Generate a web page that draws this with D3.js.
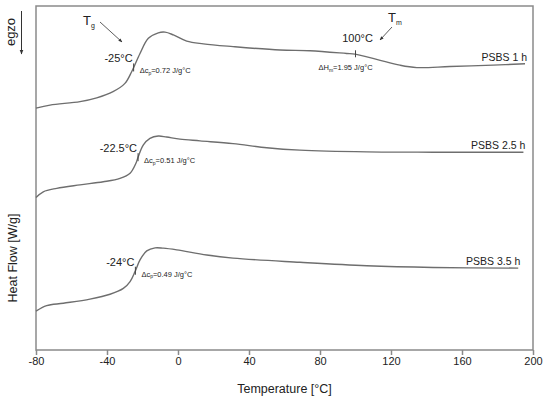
<!DOCTYPE html>
<html>
<head>
<meta charset="utf-8">
<script src="https://cdn.jsdelivr.net/npm/d3@7"></script>
<style>
  html, body { margin: 0; padding: 0; background: #fff; }
  svg { display: block; font-family: "Liberation Sans", Arial, sans-serif; }
</style>
</head>
<body>
<svg id="chart" width="550" height="404"></svg>
<script>
// temperatures [°C] and heat flow (arbitrary, stacked)
const temps1 = [-80, -72.1, -55.2, -45.8, -36.6, -29.9, -26.1, -21.4, -16.7, -11.1, -7.3, -2.6, 4.9, 14.3, 31, 57.5, 74.4, 95, 99.7, 111.9, 125, 134.5, 153.2, 177.5, 195.5]
const flow1 = [70.3, 71.2, 72.2, 73.3, 75.1, 77.5, 80.9, 86.2, 90.6, 92.2, 92.4, 91.6, 89.8, 89.0, 88.2, 87.2, 87.0, 86.2, 86.0, 84.5, 82.8, 82.1, 82.4, 82.8, 83.2]
const temps2 = [-80, -75.9, -68.3, -55.2, -42.1, -32.7, -27.0, -23.7, -22.4, -19.5, -15.8, -11.1, -6.4, 1.1, 12.4, 31, 50, 68.7, 106.3, 143.7, 194.6]
const flow2 = [44.3, 46.0, 47.0, 48.0, 48.9, 49.9, 51.4, 54.3, 56.2, 59.6, 61.5, 62.2, 61.9, 61.3, 60.8, 60.0, 58.8, 58.1, 57.6, 57.5, 57.5]
const temps3 = [-80, -74, -64.6, -49.6, -38.3, -30.8, -27.0, -24.2, -21.4, -17.6, -12.9, -8.3, -0.7, 16.2, 31, 68.7, 106.3, 143.7, 191.7]
const flow3 = [11.3, 12.9, 13.6, 14.8, 16.2, 17.9, 19.9, 22.8, 26.2, 28.8, 29.7, 29.6, 29.1, 27.6, 26.7, 25.5, 24.5, 24.0, 23.8]

const sampleNames = ["PSBS 1 h", "PSBS 2.5 h", "PSBS 3.5 h"]
const tgValues = [-25, -22.5, -24]
const dcpValues = [0.72, 0.51, 0.49]
const tmValue = 100
const dhmValue = 1.95
const xTicks = [-80, -40, 0, 40, 80, 120, 160, 200]

const series = [
  { name: sampleNames[0], t: temps1, v: flow1 },
  { name: sampleNames[1], t: temps2, v: flow2 },
  { name: sampleNames[2], t: temps3, v: flow3 },
]

const svg = d3.select("#chart")
const margin = { top: 6, right: 17, bottom: 54, left: 36 }
const width = 550, height = 404
const x = d3.scaleLinear().domain([-80, 200]).range([margin.left, width - margin.right])
const y = d3.scaleLinear().domain([0, 100]).range([height - margin.bottom, margin.top])

const frameColor = "#8a8a8a"
const lineColor = "#6e6e6e"
const textColor = "#222"

const defs = svg.append("defs")
defs.append("marker")
  .attr("id", "arrow")
  .attr("viewBox", "0 0 10 10")
  .attr("refX", 9).attr("refY", 5)
  .attr("markerWidth", 5).attr("markerHeight", 5)
  .attr("orient", "auto")
  .append("path").attr("d", "M0,1 L10,5 L0,9 Z").attr("fill", "#333")

// frame
svg.append("rect")
  .attr("x", x(-80)).attr("y", y(100))
  .attr("width", x(200) - x(-80)).attr("height", y(0) - y(100))
  .attr("fill", "none").attr("stroke", frameColor).attr("stroke-width", 1.5)

svg.append("g")
  .attr("transform", `translate(0,${y(0)})`)
  .call(d3.axisBottom(x).tickValues(xTicks).tickSize(5).tickSizeOuter(0).tickFormat((d) => String(d)))
  .call((axis) => axis.select(".domain").remove())
  .call((axis) => axis.selectAll("line").attr("stroke", frameColor).attr("stroke-width", 1.5))
  .call((axis) => axis.selectAll("text").attr("fill", textColor).attr("font-size", 11).attr("dy", "0.6em").style("font-family", "Liberation Sans, Arial, sans-serif"))

svg.append("text")
  .attr("x", (x(-80) + x(200)) / 2).attr("y", 393)
  .attr("text-anchor", "middle").attr("font-size", 12.5).attr("fill", textColor)
  .text("Temperature [°C]")

svg.append("text")
  .attr("transform", `translate(17,${258}) rotate(-90)`)
  .attr("text-anchor", "middle").attr("font-size", 12.5).attr("fill", textColor)
  .text("Heat Flow [W/g]")

svg.append("text")
  .attr("transform", "translate(15,32) rotate(-90)")
  .attr("text-anchor", "middle").attr("font-size", 13).attr("fill", textColor)
  .text("egzo")
svg.append("line")
  .attr("x1", 21.5).attr("y1", 11).attr("x2", 21.5).attr("y2", 54)
  .attr("stroke", "#333").attr("stroke-width", 1)
  .attr("marker-end", "url(#arrow)")

const line = d3.line()
  .x((d) => x(d[0]))
  .y((d) => y(d[1]))
  .curve(d3.curveCatmullRom.alpha(0.5))

function valueAt(s, t) {
  const i = d3.bisectLeft(s.t, t)
  if (i <= 0) return s.v[0]
  const t0 = s.t[i - 1], t1 = s.t[i]
  return s.v[i - 1] + (s.v[i] - s.v[i - 1]) * (t - t0) / (t1 - t0)
}

series.forEach((s, k) => {
  const pts = s.t.map((t, i) => [t, s.v[i]])
  svg.append("path")
    .datum(pts)
    .attr("d", line)
    .attr("fill", "none")
    .attr("stroke", lineColor)
    .attr("stroke-width", 1.4)

  const last = pts[pts.length - 1]
  svg.append("text")
    .attr("x", x(last[0]) + 2).attr("y", y(last[1]) - 3)
    .attr("text-anchor", "end").attr("font-size", 10.5).attr("fill", textColor)
    .text(s.name)

  // glass transition marker
  const mx = x(tgValues[k])
  const my = y(valueAt(s, tgValues[k]))
  svg.append("line")
    .attr("x1", mx).attr("x2", mx).attr("y1", my - 4).attr("y2", my + 4)
    .attr("stroke", "#444").attr("stroke-width", 1)
  svg.append("text")
    .attr("x", mx - 1).attr("y", my - 5)
    .attr("text-anchor", "end").attr("font-size", 11).attr("fill", textColor)
    .text(`${tgValues[k]}°C`)
  const dcp = svg.append("text")
    .attr("x", mx + 6).attr("y", my + 6)
    .attr("font-size", 7.5).attr("fill", textColor)
  dcp.append("tspan").text("Δc")
  dcp.append("tspan").attr("font-size", 5).attr("dy", 1.5).text("p")
  dcp.append("tspan").attr("dy", -1.5).text(`=${dcpValues[k].toFixed(2)} J/g°C`)
})

// melting marker on the first curve
const tmx = x(tmValue)
const tmy = y(valueAt(series[0], tmValue))
svg.append("line")
  .attr("x1", tmx).attr("x2", tmx).attr("y1", tmy - 4).attr("y2", tmy + 3)
  .attr("stroke", "#444").attr("stroke-width", 1)
svg.append("text")
  .attr("x", tmx + 2).attr("y", tmy - 12)
  .attr("text-anchor", "middle").attr("font-size", 11).attr("fill", textColor)
  .text(`${tmValue}°C`)
const dhm = svg.append("text")
  .attr("x", tmx - 10).attr("y", tmy + 16)
  .attr("text-anchor", "middle").attr("font-size", 7.5).attr("fill", textColor)
dhm.append("tspan").text("ΔH")
dhm.append("tspan").attr("font-size", 5).attr("dy", 1.5).text("m")
dhm.append("tspan").attr("dy", -1.5).text(`=${dhmValue.toFixed(2)} J/g°C`)

// Tg / Tm callouts
const tg = svg.append("text").attr("x", 83).attr("y", 25).attr("font-size", 13).attr("fill", textColor)
tg.append("tspan").text("T")
tg.append("tspan").attr("font-size", 7).attr("dy", 3).text("g")
svg.append("line")
  .attr("x1", 100).attr("y1", 22).attr("x2", 122).attr("y2", 42)
  .attr("stroke", "#333").attr("stroke-width", 0.8)
  .attr("marker-end", "url(#arrow)")

const tm = svg.append("text").attr("x", 388).attr("y", 22).attr("font-size", 13).attr("fill", textColor)
tm.append("tspan").text("T")
tm.append("tspan").attr("font-size", 7).attr("dy", 3).text("m")
svg.append("line")
  .attr("x1", 392).attr("y1", 27).attr("x2", 380).attr("y2", 40)
  .attr("stroke", "#333").attr("stroke-width", 0.8)
  .attr("marker-end", "url(#arrow)")
</script>
</body>
</html>
